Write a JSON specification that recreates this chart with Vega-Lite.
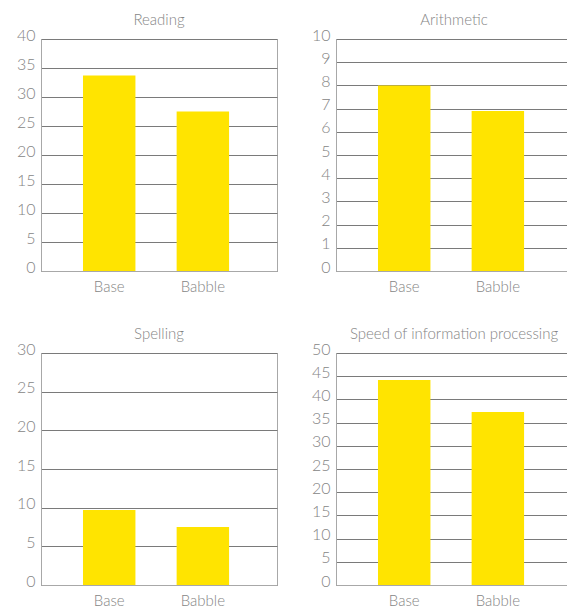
{
  "$schema": "https://vega.github.io/schema/vega-lite/v6.json",
  "padding": {"left": 5, "top": 12, "right": 0, "bottom": 0},
  "datasets": {
    "reading": [{"cond": "Base", "score": 33.7}, {"cond": "Babble", "score": 27.5}],
    "arith": [{"cond": "Base", "score": 8.0}, {"cond": "Babble", "score": 6.9}],
    "spelling": [{"cond": "Base", "score": 9.7}, {"cond": "Babble", "score": 7.5}],
    "speed": [{"cond": "Base", "score": 44.2}, {"cond": "Babble", "score": 37.3}]
  },
  "config": {
    "font": "Lato",
    "view": {"stroke": "#a8a8a8", "strokeWidth": 1},
    "title": {"fontSize": 15, "fontWeight": 300, "color": "#858585", "offset": -1, "font": "Lato"},
    "axisY": {"grid": true, "gridColor": "#7a7a7a", "gridWidth": 1, "domainColor": "#a8a8a8", "ticks": false, "labelColor": "#858585", "labelFontSize": 16, "labelFontWeight": 300, "labelPadding": 6, "labelOffset": -4, "title": null, "minExtent": 35, "maxExtent": 35},
    "axisX": {"domainColor": "#a8a8a8", "ticks": false, "labelColor": "#858585", "labelFontSize": 15, "labelFontWeight": 300, "labelPadding": 8, "labelAngle": 0, "title": null, "minExtent": 26, "maxExtent": 26},
    "bar": {"color": "#FFE400"}
  },
  "columns": 2,
  "spacing": {"column": 22, "row": 28},
  "concat": [
    {
      "title": "Reading",
      "width": 236, "height": 232,
      "data": {"name": "reading"},
      "mark": "bar",
      "encoding": {
        "x": {"field": "cond", "type": "nominal", "sort": ["Base", "Babble"], "scale": {"paddingInner": 0.44, "paddingOuter": 0.48, "align": 0.467}},
        "y": {"field": "score", "type": "quantitative", "scale": {"domain": [0, 40]}, "axis": {"values": [0, 5, 10, 15, 20, 25, 30, 35, 40]}}
      }
    },
    {
      "title": "Arithmetic",
      "width": 236, "height": 232,
      "data": {"name": "arith"},
      "mark": "bar",
      "encoding": {
        "x": {"field": "cond", "type": "nominal", "sort": ["Base", "Babble"], "scale": {"paddingInner": 0.44, "paddingOuter": 0.48, "align": 0.467}},
        "y": {"field": "score", "type": "quantitative", "scale": {"domain": [0, 10]}, "axis": {"values": [0, 1, 2, 3, 4, 5, 6, 7, 8, 9, 10]}}
      }
    },
    {
      "title": "Spelling",
      "width": 236, "height": 232,
      "data": {"name": "spelling"},
      "mark": "bar",
      "encoding": {
        "x": {"field": "cond", "type": "nominal", "sort": ["Base", "Babble"], "scale": {"paddingInner": 0.44, "paddingOuter": 0.48, "align": 0.467}},
        "y": {"field": "score", "type": "quantitative", "scale": {"domain": [0, 30]}, "axis": {"values": [0, 5, 10, 15, 20, 25, 30]}}
      }
    },
    {
      "title": "Speed of information processing",
      "width": 236, "height": 232,
      "data": {"name": "speed"},
      "mark": "bar",
      "encoding": {
        "x": {"field": "cond", "type": "nominal", "sort": ["Base", "Babble"], "scale": {"paddingInner": 0.44, "paddingOuter": 0.48, "align": 0.467}},
        "y": {"field": "score", "type": "quantitative", "scale": {"domain": [0, 50]}, "axis": {"values": [0, 5, 10, 15, 20, 25, 30, 35, 40, 45, 50]}}
      }
    }
  ]
}
